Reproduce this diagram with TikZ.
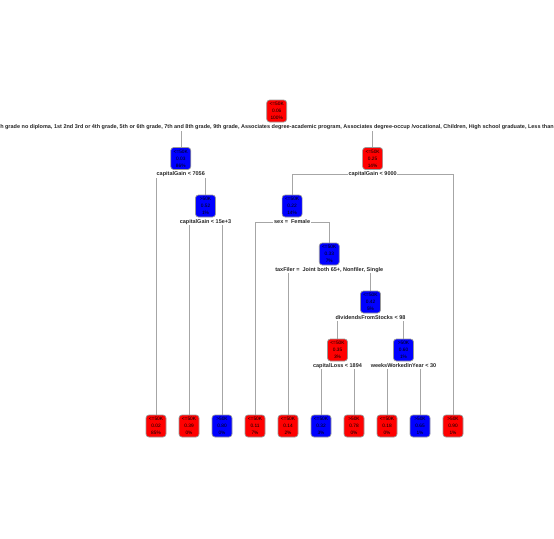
\documentclass[tikz,border=0pt]{standalone}
\usepackage{fontspec}
\setmainfont{Liberation Sans}
\usetikzlibrary{backgrounds}
\begin{document}
\begin{tikzpicture}[x=1pt,y=-1pt,
  nd/.style={rounded corners=3pt, draw=gray!80, line width=0.7pt, minimum width=20pt, minimum height=22pt,
    inner sep=0.3pt, align=center, font=\fontsize{4.8}{7}\selectfont, text=black},
  rd/.style={nd, fill=red},
  bl/.style={nd, fill=blue},
  lbl/.style={fill=white, inner sep=0.8pt, font=\bfseries\fontsize{5.5}{6}\selectfont, text=black!85},
  edge/.style={draw=gray!70, line width=0.5pt}]
\useasboundingbox (0,0) rectangle (554,538);
% internal nodes
\node[rd] (n1) at (276.7,111) {<=50K\\0.06\\100\%};
\node[bl] (n2) at (180.75,158.5) {<=50K\\0.03\\86\%};
\node[rd] (n3) at (372.6,158.5) {<=50K\\0.25\\14\%};
\node[bl] (n5) at (205.5,206) {>50K\\0.52\\1\%};
\node[bl] (n6) at (292.1,206) {<=50K\\0.22\\14\%};
\node[bl] (n13) at (329.25,254) {<=50K\\0.33\\7\%};
\node[bl] (n27) at (370.5,302) {<=50K\\0.42\\5\%};
\node[rd] (n54) at (337.5,350) {<=50K\\0.35\\3\%};
\node[bl] (n55) at (403.5,350) {>50K\\0.60\\1\%};
% leaves
\node[rd] (l1) at (156,426) {<=50K\\0.02\\85\%};
\node[rd] (l2) at (189,426) {<=50K\\0.39\\0\%};
\node[bl] (l3) at (222,426) {>50K\\0.80\\0\%};
\node[rd] (l4) at (255,426) {<=50K\\0.11\\7\%};
\node[rd] (l5) at (288,426) {<=50K\\0.14\\2\%};
\node[bl] (l6) at (321,426) {<=50K\\0.32\\3\%};
\node[rd] (l7) at (354,426) {>50K\\0.78\\0\%};
\node[rd] (l8) at (387,426) {<=50K\\0.18\\0\%};
\node[bl] (l9) at (420,426) {>50K\\0.65\\1\%};
\node[rd] (l10) at (453,426) {>50K\\0.90\\1\%};
% split labels
\node[lbl] (s1) at (277,127.5) {h grade no diploma, 1st 2nd 3rd or 4th grade, 5th or 6th grade, 7th and 8th grade, 9th grade, Associates degree-academic program, Associates degree-occup /vocational, Children, High school graduate, Less than};
\node[lbl] (s2) at (n2.center |- 0,174.5) {capitalGain < 7056};
\node[lbl] (s3) at (n3.center |- 0,174.5) {capitalGain < 9000};
\node[lbl] (s5) at (n5.center |- 0,222) {capitalGain < 15e+3};
\node[lbl] (s6) at (n6.center |- 0,222) {sex = \ Female};
\node[lbl] (s13) at (n13.center |- 0,270) {taxFiler = \ Joint both 65+, Nonfiler, Single};
\node[lbl] (s27) at (n27.center |- 0,318) {dividendsFromStocks < 98};
\node[lbl] (s54) at (n54.center |- 0,366) {capitalLoss < 1894};
\node[lbl] (s55) at (n55.center |- 0,366) {weeksWorkedInYear < 30};
% connectors
\begin{pgfonlayer}{background}
\draw[edge] (n2.north) -- (n2.north |- s1.center) -- (n3.north |- s1.center) -- (n3.north);
\draw[edge] (l1.north) -- (l1.north |- s2.center) -- (n5.north |- s2.center) -- (n5.north);
\draw[edge] (n6.north) -- (n6.north |- s3.center) -- (l10.north |- s3.center) -- (l10.north);
\draw[edge] (l2.north) -- (l2.north |- s5.center) -- (l3.north |- s5.center) -- (l3.north);
\draw[edge] (l4.north) -- (l4.north |- s6.center) -- (n13.north |- s6.center) -- (n13.north);
\draw[edge] (l5.north) -- (l5.north |- s13.center) -- (n27.north |- s13.center) -- (n27.north);
\draw[edge] (n54.north) -- (n54.north |- s27.center) -- (n55.north |- s27.center) -- (n55.north);
\draw[edge] (l6.north) -- (l6.north |- s54.center) -- (l7.north |- s54.center) -- (l7.north);
\draw[edge] (l8.north) -- (l8.north |- s55.center) -- (l9.north |- s55.center) -- (l9.north);
\end{pgfonlayer}
\end{tikzpicture}
\end{document}
